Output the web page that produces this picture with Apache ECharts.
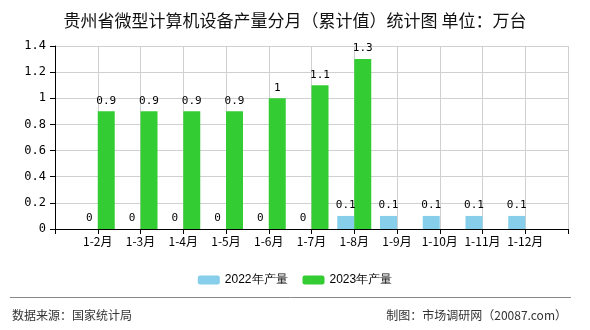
<!DOCTYPE html>
<html>
<head>
<meta charset="utf-8">
<title>贵州省微型计算机设备产量分月（累计值）统计图</title>
<script src="https://cdn.jsdelivr.net/npm/echarts@6/dist/echarts.min.js"></script>
<style>
html, body { margin: 0; padding: 0; background: #fff; }
#main { width: 590px; height: 330px; }
</style>
</head>
<body>
<div id="main"></div>
<script type="text/javascript">
// 前后各留一个空类目，让柱子落在刻度线上
var categories = ['', '1-2月', '1-3月', '1-4月', '1-5月', '1-6月', '1-7月', '1-8月', '1-9月', '1-10月', '1-11月', '1-12月', ''];
var output2022 = [null, 0, 0, 0, 0, 0, 0, 0.1, 0.1, 0.1, 0.1, 0.1, null];
var output2023 = [null, 0.9, 0.9, 0.9, 0.9, 1, 1.1, 1.3, null, null, null, null, null];
var seriesNames = ['2022年产量', '2023年产量'];

var monoFont = '"DejaVu Sans Mono", monospace';
var cjkFont = '"Noto Sans CJK SC", sans-serif';

var myChart = echarts.init(document.getElementById('main'));

var labelStyle = {
    show: true,
    position: 'top',
    distance: 5,
    fontFamily: monoFont,
    fontSize: 11,
    color: '#000'
};

var option = {
    animation: false,
    color: ['#87ceeb', '#33cc33'],
    title: {
        text: '贵州省微型计算机设备产量分月（累计值）统计图 单位：万台',
        left: 'center',
        top: 7,
        textStyle: { fontFamily: cjkFont, fontSize: 17, fontWeight: 'normal', color: '#111' }
    },
    legend: {
        data: seriesNames,
        top: 269,
        left: 'center',
        itemWidth: 22,
        itemHeight: 9,
        itemGap: 15,
        textStyle: { fontFamily: '"Liberation Sans", Arial, sans-serif', fontSize: 12, color: '#000' }
    },
    grid: { left: 55, right: 22, top: 46, bottom: 101 },
    xAxis: {
        type: 'category',
        data: categories,
        boundaryGap: false,
        axisLine: { lineStyle: { color: '#000' } },
        axisTick: { show: true, interval: 0, length: 5, lineStyle: { color: '#000' } },
        axisLabel: { interval: 0, fontFamily: cjkFont, fontSize: 12, color: '#000', margin: 6 },
        splitLine: { show: true, interval: 0, lineStyle: { color: '#d0d0d0' } }
    },
    yAxis: {
        type: 'value',
        min: 0,
        max: 1.4,
        interval: 0.2,
        axisLine: { show: true, lineStyle: { color: '#000' } },
        axisTick: { show: true, length: 5, lineStyle: { color: '#000' } },
        axisLabel: { fontFamily: monoFont, fontSize: 12, color: '#000', margin: 9 },
        splitLine: { lineStyle: { color: '#d0d0d0' } }
    },
    series: [
        {
            name: seriesNames[0],
            type: 'bar',
            data: output2022,
            barWidth: 17,
            barGap: 0,
            label: labelStyle
        },
        {
            name: seriesNames[1],
            type: 'bar',
            data: output2023,
            barWidth: 17,
            barGap: 0,
            label: labelStyle
        }
    ],
    graphic: [
        {
            type: 'line',
            shape: { x1: 10, y1: 297.5, x2: 571, y2: 297.5 },
            style: { stroke: '#888', lineWidth: 1 }
        },
        {
            type: 'text',
            left: 12,
            top: 309,
            style: { text: '数据来源：国家统计局', fontFamily: cjkFont, fontSize: 12, fill: '#333' }
        },
        {
            type: 'text',
            right: 23,
            top: 309,
            style: { text: '制图：市场调研网（20087.com）', fontFamily: cjkFont, fontSize: 12, fill: '#333' }
        }
    ]
};

myChart.setOption(option);
</script>
</body>
</html>
